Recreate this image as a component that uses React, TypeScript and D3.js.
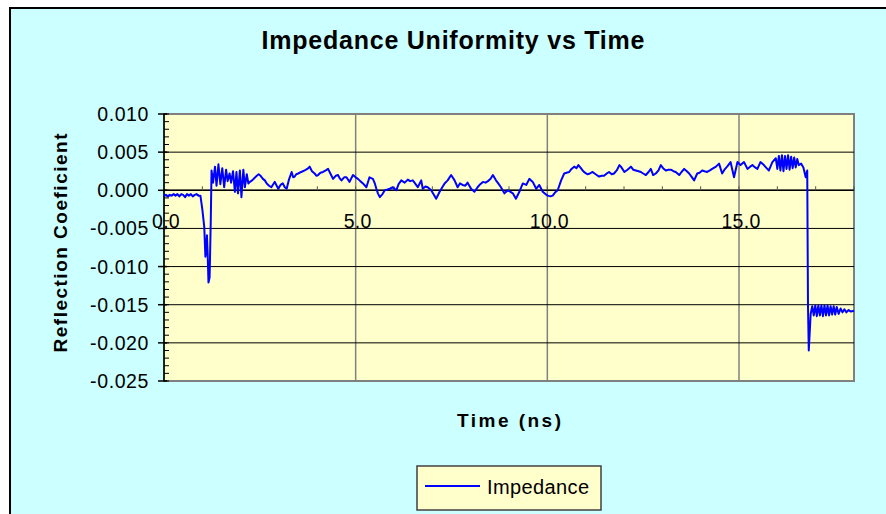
import React, { useEffect, useRef } from "react";
import * as d3 from "d3";

// Impedance uniformity (TDR) trace
const timeNs = [
  0.0, 0.05, 0.1, 0.15, 0.2, 0.25, 0.3, 0.35, 0.4, 0.45, 0.5, 0.55, 0.6, 0.65, 0.7, 0.75, 0.8, 0.85, 0.9, 0.95,
  1.0, 1.05, 1.08, 1.1, 1.12, 1.14, 1.16, 1.19, 1.22, 1.24, 1.28, 1.33, 1.37, 1.42, 1.47, 1.52, 1.57, 1.62, 1.66,
  1.71, 1.75, 1.8, 1.85, 1.89, 1.93, 1.98, 2.02, 2.07, 2.11, 2.16, 2.2,
  2.24, 2.3, 2.36, 2.42, 2.47, 2.52, 2.58, 2.63, 2.68, 2.74, 2.8, 2.85, 2.89, 2.94, 2.98, 3.04, 3.1, 3.15,
  3.2, 3.26, 3.33, 3.37, 3.41, 3.45, 3.5, 3.58, 3.67, 3.74, 3.8, 3.86, 3.93, 3.98, 4.02, 4.08, 4.15, 4.22, 4.28,
  4.35, 4.41, 4.48, 4.54, 4.58, 4.63, 4.7, 4.76, 4.84, 4.93, 5.0, 5.06, 5.12, 5.19, 5.28, 5.36, 5.45, 5.5, 5.54,
  5.58, 5.63, 5.7, 5.76, 5.83, 5.89, 5.97, 6.06, 6.12, 6.19, 6.28, 6.36, 6.42, 6.49, 6.55, 6.62, 6.71, 6.75, 6.82,
  6.88, 6.97, 7.04, 7.1, 7.19, 7.26, 7.32, 7.4, 7.49, 7.58, 7.66, 7.72, 7.79, 7.86, 7.92, 8.01, 8.1, 8.18, 8.25,
  8.32, 8.39, 8.45, 8.52, 8.58, 8.66, 8.72, 8.79, 8.88, 8.97, 9.04, 9.1, 9.18, 9.27, 9.36, 9.45, 9.53, 9.62, 9.71,
  9.79, 9.88, 9.95, 10.01, 10.08, 10.14, 10.2, 10.27, 10.36, 10.44, 10.5, 10.57, 10.63, 10.7, 10.76, 10.81, 10.86,
  10.92, 10.98, 11.05, 11.11, 11.18, 11.26, 11.35, 11.42, 11.48, 11.55, 11.61, 11.68, 11.74, 11.81, 11.88, 11.92,
  12.01, 12.09, 12.18, 12.24, 12.31, 12.38, 12.44, 12.5, 12.57, 12.64, 12.7, 12.76, 12.83, 12.9, 12.96, 13.02,
  13.09, 13.16, 13.22, 13.29, 13.35, 13.44, 13.5, 13.57, 13.64, 13.7, 13.76, 13.83, 13.91, 13.97, 14.04, 14.1,
  14.17, 14.24, 14.3, 14.4, 14.48, 14.56, 14.62, 14.69, 14.78, 14.87, 14.96, 15.04, 15.13, 15.22, 15.29, 15.35,
  15.42, 15.48, 15.56, 15.65, 15.72, 15.78, 15.87, 15.96, 16.0, 16.04, 16.08, 16.12, 16.16, 16.2, 16.24, 16.28,
  16.32, 16.36, 16.4, 16.44, 16.48, 16.52, 16.56, 16.62, 16.68, 16.74, 16.78, 16.8, 16.82, 16.87, 16.91, 16.95,
  16.99, 17.03, 17.07, 17.11, 17.15, 17.19, 17.23, 17.27, 17.31, 17.35, 17.39, 17.43, 17.47, 17.51, 17.55, 17.6,
  17.65, 17.7, 17.75, 17.8, 17.86, 17.92, 18.0,
];

const impedance = [
  -0.0007, -0.0006, -0.0008, -0.0006, -0.0007, -0.0005, -0.0007, -0.0005, -0.0008, -0.0005, -0.0006, -0.0009,
  -0.0005, -0.0007, -0.0005, -0.0008, -0.0006, -0.0005, -0.0007, -0.0007,
  -0.0025, -0.0048, -0.0087, -0.008, -0.0059, -0.0085, -0.0121, -0.0114, -0.004, 0.0026, 0.001, 0.0031, 0.0006,
  0.0034, 0.0008, 0.0029, 0.0004, 0.0027, 0.0012, 0.0022, 0.001, 0.0025, -0.0002, 0.0024, -0.0004, 0.0026,
  -0.0009, 0.0027, 0.0004, 0.0021, 0.0009,
  0.0011, 0.0013, 0.0016, 0.0019, 0.0021, 0.0019, 0.0015, 0.0013, 0.0009, 0.0006, 0.0004, 0.0008, 0.0011, 0.0006,
  0.0002, 0.0007, 0.0009, 0.0004, 0.0002, 0.0014, 0.0024, 0.0017, 0.0018, 0.0021, 0.0022, 0.0024, 0.0026, 0.0028,
  0.0031, 0.0025, 0.0022, 0.0019, 0.002, 0.0023, 0.0024, 0.0026, 0.0028, 0.0021, 0.0015, 0.0019, 0.002, 0.0016,
  0.0013, 0.0017, 0.0017, 0.0011, 0.002, 0.0017, 0.0015, 0.0012, 0.0009, 0.0004, 0.0017, 0.0015, 0.0009, 0.0002,
  -0.0004, -0.0009, -0.0005, 0.0, 0.0001, 0.0002, 0.0004, 0.0, 0.0008, 0.0013, 0.001, 0.0014, 0.0012, 0.0013,
  0.0009, 0.0004, 0.0013, 0.0002, 0.0005, 0.0004, 0.0, -0.0006, -0.0011, -0.0002, 0.0004, 0.0009, 0.0013, 0.002,
  0.0013, 0.0004, 0.0009, 0.0007, 0.0006, 0.001, 0.0002, -0.0002, 0.0004, 0.0008, 0.0011, 0.001, 0.0012, 0.0015,
  0.002, 0.0013, 0.0009, 0.0004, -0.0004, 0.0, -0.0002, -0.0004, -0.0011, -0.0002, 0.0009, 0.0007, 0.0015,
  0.0011, 0.0002, 0.0007, -0.0002, -0.0005, -0.0007, -0.0008, -0.0007, -0.0003, 0.0, 0.0013, 0.0022, 0.0023,
  0.0024, 0.0028, 0.0031, 0.0029, 0.0033, 0.003, 0.0026, 0.0023, 0.0021, 0.0022, 0.0024, 0.0021, 0.0018, 0.0019,
  0.0019, 0.0022, 0.0024, 0.0021, 0.0022, 0.0026, 0.0033, 0.0031, 0.0024, 0.0027, 0.0031, 0.0027, 0.0026, 0.0025,
  0.0024, 0.0022, 0.002, 0.0024, 0.0028, 0.002, 0.0022, 0.0026, 0.0033, 0.0029, 0.0026, 0.0027, 0.0027, 0.0025,
  0.0024, 0.002, 0.0024, 0.0028, 0.0025, 0.0022, 0.0018, 0.0013, 0.0022, 0.0023, 0.0026, 0.0025, 0.0024, 0.0026,
  0.0028, 0.0031, 0.0035, 0.0022, 0.0027, 0.0031, 0.0037, 0.0017, 0.0037, 0.0033, 0.0037, 0.0028, 0.0031, 0.0033,
  0.003, 0.0028, 0.0037, 0.0033, 0.0029, 0.0026, 0.0037, 0.0042, 0.0028, 0.0045, 0.0026, 0.0046, 0.0025, 0.0045,
  0.0028, 0.0046, 0.0027, 0.0044, 0.0029, 0.0043, 0.003, 0.0041, 0.0033, 0.0035, 0.003, 0.0017, 0.0026, -0.0153,
  -0.021, -0.0162, -0.0152, -0.0164, -0.0151, -0.0165, -0.0151, -0.0164, -0.0151, -0.0165, -0.0151, -0.0164,
  -0.0151, -0.0164, -0.0152, -0.0163, -0.0152, -0.0163, -0.0153, -0.0162, -0.0155, -0.016, -0.0156, -0.016,
  -0.0157, -0.0159, -0.0158,
];

const yTicks = [0.01, 0.005, 0.0, -0.005, -0.01, -0.015, -0.02, -0.025];
const xTicks = [0, 5, 10, 15];

const FONT = "'Liberation Sans', Arial, sans-serif";

export default function App() {
  const svgRef = useRef<SVGSVGElement>(null);

  useEffect(() => {
    const w = 886;
    const h = 514;
    const svg = d3.select(svgRef.current);
    svg.selectAll("*").remove();

    const left = 164;
    const right = 854;
    const top = 114;
    const bottom = 381;

    const x = d3.scaleLinear().domain([0, 18]).range([left, right]);
    const y = d3.scaleLinear().domain([-0.025, 0.01]).range([bottom, top]);

    // page + chart area
    svg.append("rect").attr("width", w).attr("height", h).attr("fill", "#fff");
    svg
      .append("rect")
      .attr("x", 10)
      .attr("y", 8)
      .attr("width", 900)
      .attr("height", 540)
      .attr("fill", "#CCFFFF")
      .attr("stroke", "#000")
      .attr("stroke-width", 2);

    // plot area
    svg
      .append("rect")
      .attr("x", left)
      .attr("y", top)
      .attr("width", right - left)
      .attr("height", bottom - top)
      .attr("fill", "#FFFFCC")
      .attr("stroke", "#808080")
      .attr("stroke-width", 2);

    // vertical grid (grey)
    svg
      .append("g")
      .selectAll("line")
      .data(xTicks.filter((d) => d > 0))
      .join("line")
      .attr("x1", (d) => x(d))
      .attr("x2", (d) => x(d))
      .attr("y1", top)
      .attr("y2", bottom)
      .attr("stroke", "#808080")
      .attr("stroke-width", 1.5);

    // horizontal grid (black)
    svg
      .append("g")
      .selectAll("line")
      .data(yTicks.filter((d) => d > -0.025 && d < 0.01))
      .join("line")
      .attr("x1", left)
      .attr("x2", right)
      .attr("y1", (d) => y(d))
      .attr("y2", (d) => y(d))
      .attr("stroke", "#000")
      .attr("stroke-width", 1);

    // y axis
    svg
      .append("line")
      .attr("x1", left)
      .attr("x2", left)
      .attr("y1", top)
      .attr("y2", bottom)
      .attr("stroke", "#000")
      .attr("stroke-width", 1.5);

    const yMinor = d3.range(-25, 11).map((d) => d / 1000);
    svg
      .append("g")
      .selectAll("line")
      .data(yMinor)
      .join("line")
      .attr("x1", left)
      .attr("x2", left + 5)
      .attr("y1", (d) => y(d))
      .attr("y2", (d) => y(d))
      .attr("stroke", "#000");

    svg
      .append("g")
      .selectAll("line")
      .data(yTicks)
      .join("line")
      .attr("x1", left - 6)
      .attr("x2", left + 3)
      .attr("y1", (d) => y(d))
      .attr("y2", (d) => y(d))
      .attr("stroke", "#000")
      .attr("stroke-width", 1.5);

    svg
      .append("g")
      .selectAll("text")
      .data(yTicks)
      .join("text")
      .attr("x", left - 15)
      .attr("y", (d) => y(d) + 7)
      .attr("text-anchor", "end")
      .attr("font-family", FONT)
      .attr("font-size", 19.5)
      .attr("letter-spacing", 0.6)
      .attr("fill", "#000")
      .text((d) => d3.format(".3f")(d).replace("−", "-"));

    // x axis along zero
    svg
      .append("line")
      .attr("x1", left)
      .attr("x2", right)
      .attr("y1", y(0))
      .attr("y2", y(0))
      .attr("stroke", "#000")
      .attr("stroke-width", 1.5);

    svg
      .append("g")
      .selectAll("line")
      .data(d3.range(1, 19))
      .join("line")
      .attr("x1", (d) => x(d))
      .attr("x2", (d) => x(d))
      .attr("y1", y(0) - 4)
      .attr("y2", y(0))
      .attr("stroke", "#555");

    svg
      .append("g")
      .selectAll("text")
      .data(xTicks)
      .join("text")
      .attr("x", (d) => x(d) + 2)
      .attr("y", y(0) + 38)
      .attr("text-anchor", "middle")
      .attr("font-family", FONT)
      .attr("font-size", 19.5)
      .attr("letter-spacing", 0.3)
      .attr("fill", "#000")
      .text((d) => d3.format(".1f")(d));

    // trace
    const line = d3
      .line<number>()
      .x((d, i) => x(timeNs[i]))
      .y((d) => y(d));

    svg
      .append("path")
      .datum(impedance)
      .attr("d", line)
      .attr("fill", "none")
      .attr("stroke", "#0000FF")
      .attr("stroke-width", 2)
      .attr("stroke-linejoin", "round");

    // titles
    svg
      .append("text")
      .attr("x", 453)
      .attr("y", 49)
      .attr("text-anchor", "middle")
      .attr("font-family", FONT)
      .attr("font-weight", "bold")
      .attr("font-size", 25)
      .attr("textLength", 383)
      .attr("lengthAdjust", "spacing")
      .text("Impedance Uniformity vs Time");

    svg
      .append("text")
      .attr("transform", `translate(67, 243) rotate(-90)`)
      .attr("text-anchor", "middle")
      .attr("font-family", FONT)
      .attr("font-weight", "bold")
      .attr("font-size", 19)
      .attr("textLength", 219)
      .attr("lengthAdjust", "spacing")
      .text("Reflection Coeficient");

    svg
      .append("text")
      .attr("x", 509)
      .attr("y", 427)
      .attr("text-anchor", "middle")
      .attr("font-family", FONT)
      .attr("font-weight", "bold")
      .attr("font-size", 19)
      .attr("textLength", 104)
      .attr("lengthAdjust", "spacing")
      .text("Time (ns)");

    // legend
    const legend = svg.append("g").attr("transform", "translate(417, 466)");
    legend
      .append("rect")
      .attr("width", 184)
      .attr("height", 44)
      .attr("fill", "#FFFFCC")
      .attr("stroke", "#404040")
      .attr("stroke-width", 1.5);
    legend
      .append("line")
      .attr("x1", 8)
      .attr("x2", 63)
      .attr("y1", 20)
      .attr("y2", 20)
      .attr("stroke", "#0000FF")
      .attr("stroke-width", 2);
    legend
      .append("text")
      .attr("x", 70)
      .attr("y", 28)
      .attr("font-family", FONT)
      .attr("font-size", 20)
      .attr("textLength", 102)
      .attr("lengthAdjust", "spacing")
      .attr("fill", "#000")
      .text("Impedance");
  }, []);

  return (
    <div>
      <svg
        ref={svgRef}
        width={886}
        height={514}
        style={{ position: "absolute", left: 0, top: 0 }}
      ></svg>
    </div>
  );
}
